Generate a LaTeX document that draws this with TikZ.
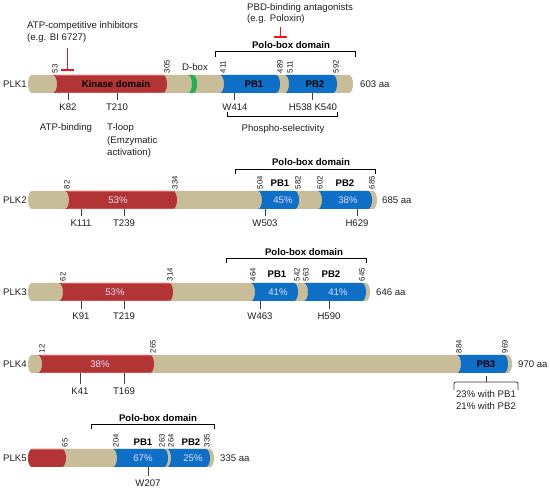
\documentclass[tikz,border=0pt]{standalone}
\usepackage{fontspec}
\setmainfont{Liberation Sans}
\definecolor{tanc}{HTML}{C9BD99}
\definecolor{kinred}{HTML}{B23434}
\definecolor{kinhi}{HTML}{E45A5A}
\definecolor{pbblue}{HTML}{0E6FC6}
\definecolor{dboxg}{HTML}{1EB24F}
\definecolor{inhred}{HTML}{F0141E}
\newcommand{\plkbar}[4]{%
 \fill[#4] (#1,#3-9) -- (#2,#3-9) arc[start angle=90,end angle=-90,x radius=4pt,y radius=9pt] -- (#1,#3+9) arc[start angle=270,end angle=90,x radius=4pt,y radius=9pt] -- cycle;}
\newcommand{\plkseg}[4]{%
 \fill[#4] (#1,#3-9) -- (#2,#3-9) arc[start angle=90,end angle=-90,x radius=4pt,y radius=9pt] -- (#1,#3+9) arc[start angle=-90,end angle=90,x radius=4pt,y radius=9pt] -- cycle;}
\newcommand{\plkhi}[3]{%
 \draw[kinhi,line width=0.9pt] (#1+3,#3-8.4) -- (#2+1,#3-8.4);
 \draw[kinhi!70!kinred,line width=0.7pt] (#1+3,#3+8.5) -- (#2+1,#3+8.5);}
\begin{document}
\begin{tikzpicture}[x=1pt,y=-1pt,
 txt/.style={font=\fontsize{9.6}{11}\selectfont, text=black!88, inner sep=0pt},
 bld/.style={font=\bfseries\fontsize{9.6}{11}\selectfont, text=black, inner sep=0pt},
 pct/.style={font=\fontsize{9.6}{11}\selectfont, text=white!88!blue, inner sep=0pt},
 aanum/.style={font=\fontsize{7.8}{8}\selectfont, text=black!90, rotate=90, anchor=west, inner sep=0.5pt},
 tickln/.style={draw=black!75, line width=0.7pt},
 brk/.style={draw=black, line width=1pt},
 brc/.style={draw=black!80, line width=0.7pt, rounded corners=2pt},
 inh/.style={draw=inhred, line width=1.8pt}]
\useasboundingbox (0,0) rectangle (550,492);
\fill[white] (0,0) rectangle (550,492);

%%%%%%%%%%%%%%%% PLK1  yc=84
\plkbar{32}{349}{84}{tanc}
\plkseg{53}{163}{84}{kinred}
\plkhi{53}{163}{84}
\plkseg{188}{193}{84}{dboxg}
\plkseg{220}{276}{84}{pbblue}
\plkseg{285}{333}{84}{pbblue}
\node[txt, anchor=base west] (plk1) at (3,87.5) {PLK1};
\node[bld, anchor=base] (kd1) at (116,87.5) {Kinase domain};
\node[bld, anchor=base] (pb11) at (254,87.5) {PB1};
\node[bld, anchor=base] (pb21) at (315,87.5) {PB2};
\node[txt, anchor=base west] (aa1) at (360,87.5) {603 aa};
\node[txt, anchor=base] (dbox) at (195,70.5) {D-box};
\node[aanum] (n1a) at (55,74) {53};
\node[aanum] (n1b) at (167,74) {305};
\node[aanum] (n1c) at (223,74) {411};
\node[aanum] (n1d) at (280,74) {489};
\node[aanum] (n1e) at (290,74) {511};
\node[aanum] (n1f) at (336,74) {592};
% residues
\node[txt, anchor=base] (k82) at (68,110.5) {K82};
\node[txt, anchor=base] (t210) at (117,110.5) {T210};
\node[txt, anchor=base] (w414) at (235,110.5) {W414};
\node[txt, anchor=base] (hk) at (313,110.5) {H538 K540};
\coordinate (k82t) at (68,93);
\coordinate (t210t) at (117,93);
\coordinate (w414t) at (234,93);
\coordinate (hkt) at (312,93);
\draw[tickln] (k82t) -- (68,100.5);
\draw[tickln] (t210t) -- (117,100.5);
\draw[tickln] (w414t) -- (234,100.5);
\draw[tickln] (hkt) -- (312,100.5);
\node[txt, anchor=base] (atpb) at (66,131) {ATP-binding};
\node[txt, anchor=base west] (tl1) at (107,131) {T-loop};
\node[txt, anchor=base west] (tl2) at (107,143.5) {(Emzymatic};
\node[txt, anchor=base west] (tl3) at (107,155.5) {activation)};
\draw[brk] (227,112) -- (227,117) -- (337,117) -- (337,112);
\node[txt, anchor=base] (phos) at (283,131.5) {Phospho-selectivity};
\draw[brk] (215,57) -- (215,52) -- (355,52) -- (355,57);
\node[bld, anchor=base] (pbd1) at (291,48.5) {Polo-box domain};
% inhibitors
\node[txt, anchor=base west] (atpc1) at (27,28.5) {ATP-competitive inhibitors};
\node[txt, anchor=base west] (atpc2) at (27,40.5) {(e.g. BI 6727)};
\coordinate (inh1top) at (67.5,48);
\coordinate (inh1bot) at (67.5,70);
\draw[inh] (inh1top) -- (inh1bot);
\draw[inh] (61,70) -- (74,70);
\node[txt, anchor=base west] (pbdb1) at (247,10.5) {PBD-binding antagonists};
\node[txt, anchor=base west] (pbdb2) at (247,21.5) {(e.g. Poloxin)};
\coordinate (inh2top) at (280.5,27);
\coordinate (inh2bot) at (280.5,37);
\draw[inh] (inh2top) -- (inh2bot);
\draw[inh] (274,37) -- (287,37);

%%%%%%%%%%%%%%%% PLK2  yc=200
\plkbar{32}{373}{200}{tanc}
\plkseg{65}{173}{200}{kinred}
\plkhi{65}{173}{200}
\plkseg{258}{295}{200}{pbblue}
\plkseg{318}{368}{200}{pbblue}
\node[txt, anchor=base west] (plk2) at (3,203.5) {PLK2};
\node[pct, anchor=base] (p2k) at (118,203.5) {53\%};
\node[pct, anchor=base] (p2a) at (283,203.5) {45\%};
\node[pct, anchor=base] (p2b) at (348,203.5) {38\%};
\node[txt, anchor=base west] (aa2) at (382,203.5) {685 aa};
\node[bld, anchor=base] (pb12) at (280,186.5) {PB1};
\node[bld, anchor=base] (pb22) at (345,186.5) {PB2};
\node[aanum] (n2a) at (67,190) {82};
\node[aanum] (n2b) at (175,190) {334};
\node[aanum] (n2c) at (260,190) {504};
\node[aanum] (n2d) at (298,190) {582};
\node[aanum] (n2e) at (320,190) {602};
\node[aanum] (n2f) at (372,190) {685};
\node[txt, anchor=base] (k111) at (81,226.5) {K111};
\node[txt, anchor=base] (t239) at (124,226.5) {T239};
\node[txt, anchor=base] (w503) at (265,226.5) {W503};
\node[txt, anchor=base] (h629) at (357,226.5) {H629};
\coordinate (k111t) at (81,209);
\coordinate (t239t) at (124,209);
\coordinate (w503t) at (265,209);
\coordinate (h629t) at (357,209);
\draw[tickln] (k111t) -- (81,216.5);
\draw[tickln] (t239t) -- (124,216.5);
\draw[tickln] (w503t) -- (265,216.5);
\draw[tickln] (h629t) -- (357,216.5);
\draw[brk] (235,174) -- (235,170) -- (375,170) -- (375,174);
\node[bld, anchor=base] (pbd2) at (311,165.5) {Polo-box domain};

%%%%%%%%%%%%%%%% PLK3  yc=292
\plkbar{32}{366}{292}{tanc}
\plkseg{59}{169}{292}{kinred}
\plkhi{59}{169}{292}
\plkseg{251}{294}{292}{pbblue}
\plkseg{304}{362}{292}{pbblue}
\node[txt, anchor=base west] (plk3) at (3,295.5) {PLK3};
\node[pct, anchor=base] (p3k) at (115,295.5) {53\%};
\node[pct, anchor=base] (p3a) at (278,295.5) {41\%};
\node[pct, anchor=base] (p3b) at (338,295.5) {41\%};
\node[txt, anchor=base west] (aa3) at (376,295.5) {646 aa};
\node[bld, anchor=base] (pb13) at (277,277.5) {PB1};
\node[bld, anchor=base] (pb23) at (331,277.5) {PB2};
\node[aanum] (n3a) at (63,282) {62};
\node[aanum] (n3b) at (170,282) {314};
\node[aanum] (n3c) at (253,282) {464};
\node[aanum] (n3d) at (297,282) {542};
\node[aanum] (n3e) at (306,282) {563};
\node[aanum] (n3f) at (362,282) {645};
\node[txt, anchor=base] (k91) at (81,319.5) {K91};
\node[txt, anchor=base] (t219) at (124,319.5) {T219};
\node[txt, anchor=base] (w463) at (260,319.5) {W463};
\node[txt, anchor=base] (h590) at (329,319.5) {H590};
\coordinate (k91t) at (81,301);
\coordinate (t219t) at (124,301);
\coordinate (w463t) at (260,301);
\coordinate (h590t) at (329,301);
\draw[tickln] (k91t) -- (81,309.5);
\draw[tickln] (t219t) -- (124,309.5);
\draw[tickln] (w463t) -- (260,309.5);
\draw[tickln] (h590t) -- (329,309.5);
\draw[brk] (226,263) -- (226,259) -- (366,259) -- (366,263);
\node[bld, anchor=base] (pbd3) at (304,255.5) {Polo-box domain};

%%%%%%%%%%%%%%%% PLK4  yc=364
\plkbar{32}{508}{364}{tanc}
\plkseg{38}{150}{364}{kinred}
\plkhi{38}{150}{364}
\plkseg{457}{504}{364}{pbblue}
\node[txt, anchor=base west] (plk4) at (3,367.5) {PLK4};
\node[pct, anchor=base] (p4k) at (100,367.5) {38\%};
\node[bld, anchor=base] (pb3) at (486,367.5) {PB3};
\node[txt, anchor=base west] (aa4) at (518,367.5) {970 aa};
\node[aanum] (n4a) at (42,354) {12};
\node[aanum] (n4b) at (153,354) {265};
\node[aanum] (n4c) at (459,354) {884};
\node[aanum] (n4d) at (505,354) {969};
\node[txt, anchor=base] (k41) at (80,394.5) {K41};
\node[txt, anchor=base] (t169) at (124,394.5) {T169};
\coordinate (k41t) at (80,373);
\coordinate (t169t) at (124,373);
\draw[tickln] (k41t) -- (80,384.5);
\draw[tickln] (t169t) -- (124,384.5);
\coordinate (brcL) at (454,390);
\coordinate (brcR) at (518,390);
\coordinate (brcM) at (486,376);
\draw[brc] (brcL) -- (454,382) -- (518,382) -- (brcR);
\draw[draw=black!80, line width=0.7pt] (brcM) -- (486,382);
\node[txt, anchor=base] (pb3a) at (486,397.5) {23\% with PB1};
\node[txt, anchor=base] (pb3b) at (486,409.5) {21\% with PB2};

%%%%%%%%%%%%%%%% PLK5  yc=458
\plkbar{32}{210}{458}{tanc}
\plkbar{32}{62}{458}{kinred}
\draw[kinhi,line width=0.9pt] (32,449.6) -- (63,449.6);
\plkseg{113}{164}{458}{pbblue}
\plkseg{167}{206}{458}{pbblue}
\node[txt, anchor=base west] (plk5) at (3,461.5) {PLK5};
\node[pct, anchor=base] (p5a) at (143,461.5) {67\%};
\node[pct, anchor=base] (p5b) at (193,461.5) {25\%};
\node[txt, anchor=base west] (aa5) at (220,461.5) {335 aa};
\node[bld, anchor=base] (pb15) at (143,446) {PB1};
\node[bld, anchor=base] (pb25) at (191,446) {PB2};
\node[aanum] (n5a) at (65,448) {65};
\node[aanum] (n5b) at (116,448) {204};
\node[aanum] (n5c) at (162,448) {263};
\node[aanum] (n5d) at (171,448) {264};
\node[aanum] (n5e) at (207,448) {335};
\node[txt, anchor=base] (w207) at (148,486) {W207};
\coordinate (w207t) at (148,467);
\draw[tickln] (w207t) -- (148,476);
\draw[brk] (91,429) -- (91,425) -- (214,425) -- (214,429);
\node[bld, anchor=base] (pbd5) at (158,421) {Polo-box domain};
\end{tikzpicture}
\end{document}
